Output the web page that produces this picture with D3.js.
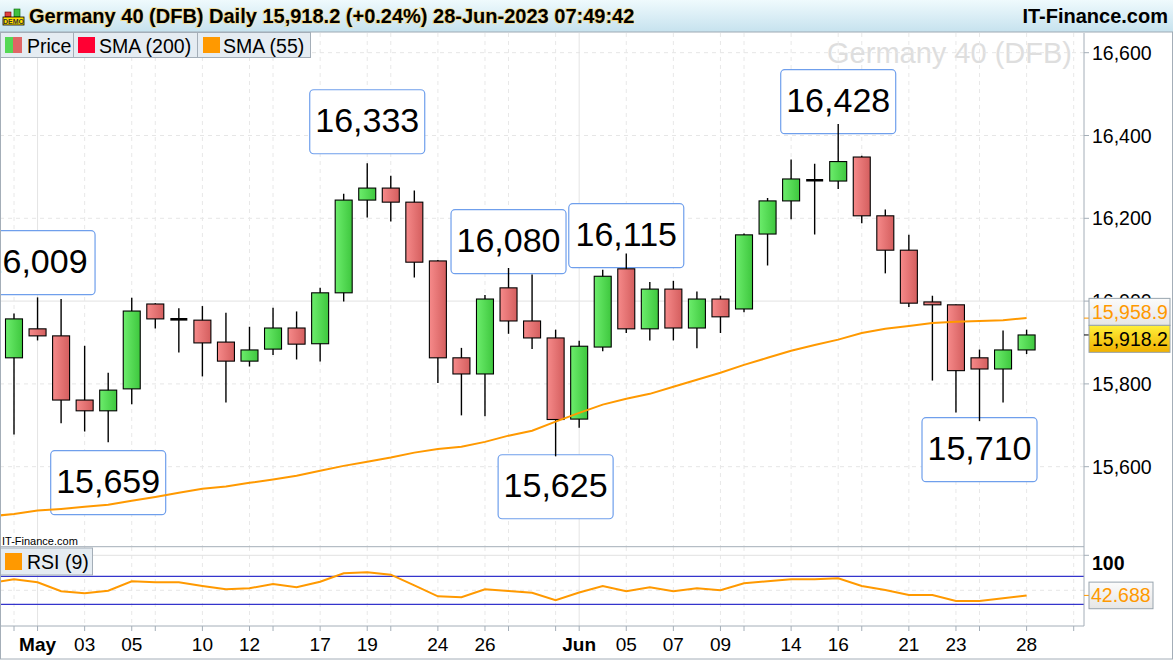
<!DOCTYPE html>
<html>
<head>
<meta charset="utf-8">
<script src="https://cdn.jsdelivr.net/npm/d3@7/dist/d3.min.js"></script>
<style>
  body { margin: 0; background: #fff; }
  svg { display: block; font-family: "Liberation Sans", Arial, sans-serif; }
</style>
</head>
<body>
<svg id="chart" width="1173" height="660"></svg>
<script>
// daily candles, Germany 40 (DFB)
var dates = ["2023-04-28","2023-05-01","2023-05-02","2023-05-03","2023-05-04","2023-05-05",
  "2023-05-08","2023-05-09","2023-05-10","2023-05-11","2023-05-12",
  "2023-05-15","2023-05-16","2023-05-17","2023-05-18","2023-05-19",
  "2023-05-22","2023-05-23","2023-05-24","2023-05-25","2023-05-26",
  "2023-05-29","2023-05-30","2023-05-31","2023-06-01","2023-06-02",
  "2023-06-05","2023-06-06","2023-06-07","2023-06-08","2023-06-09",
  "2023-06-12","2023-06-13","2023-06-14","2023-06-15","2023-06-16",
  "2023-06-19","2023-06-20","2023-06-21","2023-06-22","2023-06-23",
  "2023-06-26","2023-06-27","2023-06-28"];
var open  = [15863,15933,15916,15761,15735,15788,15993,15956,15954,15901,15855,15884,15935,15897,16020,16244,
  16273,16239,16097,15863,15824,16032,15952,15911,15715,15889,16078,15933,16029,15935,16005,15981,16162,16242,
  16292,16290,16348,16206,16123,15998,15991,15863,15836,15882];
var high  = [15970,16009,16005,15892,15827,16008,15995,15983,15988,15972,15938,15984,15975,16032,16259,16333,
  16303,16267,16099,15887,16015,16080,16064,15931,15904,16076,16115,16046,16049,16023,16013,16163,16249,16342,
  16332,16428,16351,16221,16160,16013,15992,15883,15929,15931];
var low   = [15678,15905,15705,15685,15659,15751,15934,15876,15818,15755,15842,15870,15859,15854,15999,16202,
  16192,16057,15802,15724,15722,15921,15884,15625,15694,15879,15923,15905,15905,15886,15923,15973,16086,16198,
  16161,16271,16188,16067,15986,15808,15731,15710,15755,15872];
var close = [15957,15916,15761,15735,15785,15976,15957,15956,15899,15855,15882,15935,15896,16020,16244,16273,
  16239,16094,15863,15824,16005,15952,15911,15714,15891,16060,15933,16029,15935,16005,15962,16160,16242,16295,
  16292,16337,16206,16123,15995,15991,15832,15836,15882,15918.2];
var sma55Lead = 15480; // Apr 27, off the left edge
var sma55 = [15486,15494,15498,15503,15508,15518,15527,15537,15547,15552,15561,15569,15578,15590,15602,15612,
  15622,15634,15643,15648,15660,15675,15687,15709,15730,15750,15764,15776,15793,15810,15827,15846,15863,15880,
  15894,15907,15923,15933,15940,15947,15950,15952,15954,15958.9];
var rsiLead = 60.5;
var rsi9 = [65.7,61.4,48.6,45.7,49.4,62.9,61.4,61.4,56.1,51.4,52.9,59.0,54.3,62.3,74.3,75.7,
  72.3,57.1,41.4,40.0,51.4,49.0,46.6,35.7,46.8,56.1,48.6,54.3,48.6,52.9,50.0,60.0,62.9,65.7,
  65.7,67.1,56.1,50.4,43.3,43.3,34.7,34.7,38.6,42.688];
var priceTicks = [15600,15800,16000,16200,16400,16600];
var gridIdx = [0,1,3,5,6,8,10,11,13,15,16,18,20,21,23,24,26,28,30,31,33,35,36,38,40,41,43,45];
var labelIdx = [1,3,5,8,10,13,15,18,20,24,26,28,30,33,35,38,40,43];
// swing labels
var annIdx = [1,15,21,26,35,4,23,41];
var annVal = [16009,16333,16080,16115,16428,15659,15625,15710];
var annShift = [-66.7,-73.5,-58.3,-49.8,-54.2,8.4,-1.6,-3.5]; // box top offset, px

var svg = d3.select("#chart");
var W = 1173, H = 660, plotR = 1084;
var priceTop = 33, priceBot = 546.5, rsiTop = 547, rsiBot = 626;

var x = d3.scaleLinear().domain([0, 43]).range([14, 1026.6]);
var y = d3.scaleLinear().domain([15600, 16600]).range([466.7, 52.7]);
var yr = d3.scaleLinear().domain([0, 100]).range([625.3, 555.3]);
var fmt = d3.format(",");
var fmt1 = d3.format(",.1f");
var parse = d3.timeParse("%Y-%m-%d");
var days = dates.map(parse);

var defs = svg.append("defs");
function grad(id, c1, c2, vertical) {
  var g = defs.append("linearGradient").attr("id", id)
    .attr("x1", 0).attr("y1", 0).attr("x2", vertical ? 0 : 1).attr("y2", vertical ? 1 : 0);
  g.append("stop").attr("offset", "0%").attr("stop-color", c1);
  g.append("stop").attr("offset", "100%").attr("stop-color", c2);
}
grad("gUp", "#6ced6c", "#3ec73e");
grad("gDn", "#f68a8a", "#d45e5e");
grad("gHead", "#effafd", "#c6e2ee", true);
grad("gYel", "#fff03a", "#f0b000", true);
grad("gBox", "#fbfbfb", "#e6e6e6", true);

defs.append("clipPath").attr("id", "cPrice").append("rect")
  .attr("x", 0).attr("y", priceTop).attr("width", plotR).attr("height", priceBot - priceTop);
defs.append("clipPath").attr("id", "cRsi").append("rect")
  .attr("x", 0).attr("y", rsiTop).attr("width", plotR).attr("height", rsiBot - rsiTop);

svg.append("rect").attr("width", W).attr("height", H).attr("fill", "#fff");

// watermark
svg.append("text").attr("x", 1072).attr("y", 63).attr("text-anchor", "end")
  .attr("font-size", 29).attr("fill", "#dedede").text("Germany 40 (DFB)");

// ---- price panel grid
var gp = svg.append("g").attr("clip-path", "url(#cPrice)");
gp.selectAll(".hg").data(priceTicks).enter().append("line")
  .attr("x1", 0).attr("x2", plotR).attr("y1", d => y(d)).attr("y2", d => y(d))
  .attr("stroke", d => d === 16000 ? "#e2e2e2" : "#e6e6e6")
  .attr("stroke-dasharray", d => d === 16000 ? null : "4,4");
function isMonthStart(i) { return i > 0 && i < days.length && days[i].getMonth() !== days[i - 1].getMonth(); }
gp.selectAll(".vg").data(gridIdx).enter().append("line")
  .attr("x1", d => x(d)).attr("x2", d => x(d)).attr("y1", priceTop).attr("y2", priceBot)
  .attr("stroke", d => isMonthStart(d) ? "#e4e4e4" : "#e8e8e8")
  .attr("stroke-dasharray", d => isMonthStart(d) ? null : "4,4");

// swing label boxes
var ann = gp.selectAll(".ann").data(annIdx).enter().append("g");
ann.append("rect")
  .attr("x", d => x(d) - 57.5).attr("y", (d, k) => y(annVal[k]) + annShift[k])
  .attr("width", 115).attr("height", 64).attr("rx", 4)
  .attr("fill", "#fff").attr("stroke", "#6f9fec").attr("stroke-width", 1.2);
ann.append("text")
  .attr("x", d => x(d) - (d === 1 ? 2 : 0)).attr("y", (d, k) => y(annVal[k]) + annShift[k] + 42)
  .attr("text-anchor", "middle").attr("font-size", 34).attr("fill", "#000")
  .text((d, k) => fmt(annVal[k]));

// candles
var candles = gp.selectAll(".c").data(dates).enter().append("g");
candles.append("line")
  .attr("x1", (d, i) => x(i)).attr("x2", (d, i) => x(i))
  .attr("y1", (d, i) => y(high[i])).attr("y2", (d, i) => y(low[i]))
  .attr("stroke", "#000").attr("stroke-width", 1.4);
candles.each(function(d, i) {
  var g = d3.select(this);
  if (Math.abs(open[i] - close[i]) < 1) {
    g.append("line").attr("x1", x(i) - 8.5).attr("x2", x(i) + 8.5)
      .attr("y1", y(close[i])).attr("y2", y(close[i]))
      .attr("stroke", "#000").attr("stroke-width", 2.6);
  } else {
    g.append("rect").attr("x", x(i) - 8.5).attr("width", 17)
      .attr("y", y(Math.max(open[i], close[i])))
      .attr("height", y(Math.min(open[i], close[i])) - y(Math.max(open[i], close[i])))
      .attr("fill", close[i] > open[i] ? "url(#gUp)" : "url(#gDn)")
      .attr("stroke", "#000").attr("stroke-width", 1.1);
  }
});

// SMA 55
var smaPts = [[-1, sma55Lead]].concat(sma55.map((v, i) => [i, v]));
gp.append("path").datum(smaPts)
  .attr("d", d3.line().x(d => x(d[0])).y(d => y(d[1])))
  .attr("fill", "none").attr("stroke", "#ff9900").attr("stroke-width", 2);

// ---- RSI panel
var gr = svg.append("g").attr("clip-path", "url(#cRsi)");
gr.selectAll(".vg").data(gridIdx).enter().append("line")
  .attr("x1", d => x(d)).attr("x2", d => x(d)).attr("y1", rsiTop).attr("y2", rsiBot)
  .attr("stroke", d => isMonthStart(d) ? "#e4e4e4" : "#e8e8e8")
  .attr("stroke-dasharray", d => isMonthStart(d) ? null : "4,4");
gr.append("line").attr("x1", 0).attr("x2", plotR).attr("y1", yr(50)).attr("y2", yr(50))
  .attr("stroke", "#e6e6e6").attr("stroke-dasharray", "4,4");
gr.append("line").attr("x1", 0).attr("x2", plotR).attr("y1", yr(100)).attr("y2", yr(100))
  .attr("stroke", "#e2e2e2");
[70, 30].forEach(function(lv) {
  gr.append("line").attr("x1", 0).attr("x2", plotR).attr("y1", yr(lv)).attr("y2", yr(lv))
    .attr("stroke", "#3434cc").attr("stroke-width", 1.3);
});
var rsiPts = [[-1, rsiLead]].concat(rsi9.map((v, i) => [i, v]));
gr.append("path").datum(rsiPts)
  .attr("d", d3.line().x(d => x(d[0])).y(d => yr(d[1])))
  .attr("fill", "none").attr("stroke", "#ff9900").attr("stroke-width", 2);

// panel borders / axes
svg.append("line").attr("x1", 0).attr("x2", plotR).attr("y1", 546.7).attr("y2", 546.7).attr("stroke", "#a4aeb8");
svg.append("line").attr("x1", 0).attr("x2", plotR).attr("y1", rsiBot).attr("y2", rsiBot).attr("stroke", "#a4aeb8");
svg.append("line").attr("x1", plotR).attr("x2", plotR).attr("y1", priceTop).attr("y2", rsiBot).attr("stroke", "#a4aeb8");
svg.append("rect").attr("x", 0.5).attr("y", 0.5).attr("width", W - 1).attr("height", H - 1.5)
  .attr("fill", "none").attr("stroke", "#a4aeb8");

svg.append("text").attr("x", 2).attr("y", 545).attr("font-size", 11).attr("fill", "#000").text("IT-Finance.com");

// x axis
svg.selectAll(".xt").data(gridIdx).enter().append("line")
  .attr("x1", d => x(d)).attr("x2", d => x(d)).attr("y1", rsiBot).attr("y2", rsiBot + 5)
  .attr("stroke", "#a4aeb8");
var monthFmt = d3.timeFormat("%b"), dayFmt = d3.timeFormat("%d");
svg.selectAll(".xl").data(labelIdx).enter().append("text")
  .attr("x", d => x(d)).attr("y", 651).attr("text-anchor", "middle").attr("font-size", 19)
  .attr("font-weight", d => isMonthStart(d) ? "bold" : "normal")
  .text(d => isMonthStart(d) ? monthFmt(days[d]) : dayFmt(days[d]));

// right price axis
var ya = svg.append("g");
ya.selectAll("line").data(priceTicks).enter().append("line")
  .attr("x1", plotR).attr("x2", plotR + 5).attr("y1", d => y(d)).attr("y2", d => y(d)).attr("stroke", "#a4aeb8");
ya.selectAll("text").data(priceTicks).enter().append("text")
  .attr("x", plotR + 8).attr("y", d => y(d)).attr("dy", "0.36em").attr("font-size", 19.5)
  .text(d => fmt(d));

// last value boxes
var lastC = close[close.length - 1], lastS = sma55[sma55.length - 1];
var pTop = y(lastC) - 9.6;
svg.append("line").attr("x1", plotR).attr("x2", plotR + 5).attr("y1", y(lastS)).attr("y2", y(lastS)).attr("stroke", "#ff9900");
svg.append("line").attr("x1", plotR).attr("x2", plotR + 5).attr("y1", y(lastC)).attr("y2", y(lastC)).attr("stroke", "#000");
svg.append("rect").attr("x", 1089).attr("y", pTop - 27).attr("width", 81).attr("height", 27)
  .attr("fill", "url(#gBox)").attr("stroke", "#98a4ae");
svg.append("text").attr("x", 1092).attr("y", pTop - 13.5).attr("dy", "0.36em").attr("font-size", 19.5)
  .attr("fill", "#ff9900").text(fmt1(lastS));
svg.append("rect").attr("x", 1089).attr("y", pTop).attr("width", 81).attr("height", 27)
  .attr("fill", "url(#gYel)").attr("stroke", "#98a4ae");
svg.append("text").attr("x", 1092).attr("y", pTop + 13.5).attr("dy", "0.36em").attr("font-size", 19.5)
  .attr("fill", "#000").text(fmt1(lastC));

// RSI axis
svg.append("line").attr("x1", plotR).attr("x2", plotR + 5).attr("y1", yr(100)).attr("y2", yr(100)).attr("stroke", "#a4aeb8");
svg.append("text").attr("x", 1092).attr("y", yr(100) + 15).attr("font-size", 19.5).attr("font-weight", "bold").text("100");
var lastR = rsi9[rsi9.length - 1];
svg.append("line").attr("x1", plotR).attr("x2", plotR + 5).attr("y1", yr(lastR)).attr("y2", yr(lastR)).attr("stroke", "#ff9900");
svg.append("rect").attr("x", 1089).attr("y", yr(lastR) - 13.3).attr("width", 64).attr("height", 26.6)
  .attr("fill", "url(#gBox)").attr("stroke", "#98a4ae");
svg.append("text").attr("x", 1091).attr("y", yr(lastR)).attr("dy", "0.36em").attr("font-size", 19.5)
  .attr("fill", "#ff9900").text(d3.format(".3f")(lastR));

// RSI legend
var rl = svg.append("g");
rl.append("rect").attr("x", 0.5).attr("y", 548).attr("width", 92).attr("height", 27)
  .attr("fill", "#e5ecf2").attr("stroke", "#a4aeb8");
rl.append("rect").attr("x", 5).attr("y", 553).attr("width", 17).attr("height", 17).attr("fill", "#ff9900");
rl.append("text").attr("x", 27).attr("y", 569).attr("font-size", 19.5).text("RSI (9)");

// ---- header
svg.append("rect").attr("x", 0).attr("y", 0).attr("width", W).attr("height", 32)
  .attr("fill", "url(#gHead)");
svg.append("line").attr("x1", 0).attr("x2", W).attr("y1", 32).attr("y2", 32).attr("stroke", "#9eaab4");
// DEMO icon
var ic = svg.append("g");
ic.append("rect").attr("x", 5).attr("y", 12).attr("width", 6).attr("height", 5).attr("fill", "#e04040").attr("stroke", "#600").attr("stroke-width", 0.6);
ic.append("rect").attr("x", 14).attr("y", 9).attr("width", 6).attr("height", 8).attr("fill", "#40c040").attr("stroke", "#060").attr("stroke-width", 0.6);
ic.append("rect").attr("x", 3).attr("y", 17).attr("width", 21).attr("height", 8).attr("fill", "#ffe000").attr("stroke", "#000").attr("stroke-width", 0.8);
ic.append("text").attr("x", 13.5).attr("y", 24).attr("text-anchor", "middle").attr("font-size", 7)
  .attr("font-weight", "bold").attr("fill", "#333").text("DEMO");
var title = "Germany 40 (DFB) Daily " + fmt1(lastC) + " (+0.24%) 28-Jun-2023 07:49:42";
svg.append("text").attr("x", 29).attr("y", 23).attr("font-size", 20).attr("font-weight", "bold")
  .attr("stroke", "#f3d98a").attr("stroke-width", 1.6).attr("paint-order", "stroke")
  .attr("fill", "#000").text(title);
svg.append("text").attr("x", 1168).attr("y", 23).attr("text-anchor", "end").attr("font-size", 20)
  .attr("font-weight", "bold").attr("fill", "#000").text("IT-Finance.com");

// ---- price legend
var leg = svg.append("g");
var cells = [[0, 73], [73, 124], [197, 113]];
cells.forEach(function(c) {
  leg.append("rect").attr("x", c[0] + 0.5).attr("y", 32.5).attr("width", c[1]).attr("height", 25)
    .attr("fill", "#e5ecf2").attr("stroke", "#a4aeb8");
});
leg.append("rect").attr("x", 5).attr("y", 37).attr("width", 8).attr("height", 16).attr("fill", "#55d855");
leg.append("rect").attr("x", 13).attr("y", 37).attr("width", 9).attr("height", 16).attr("fill", "#e06666");
leg.append("text").attr("x", 27).attr("y", 53).attr("font-size", 19.5).text("Price");
leg.append("rect").attr("x", 78).attr("y", 37).attr("width", 17).attr("height", 16).attr("fill", "#ff0033");
leg.append("text").attr("x", 99).attr("y", 53).attr("font-size", 19.5).text("SMA (200)");
leg.append("rect").attr("x", 203).attr("y", 37).attr("width", 17).attr("height", 16).attr("fill", "#ff9900");
leg.append("text").attr("x", 223).attr("y", 53).attr("font-size", 19.5).text("SMA (55)");
</script>
</body>
</html>
